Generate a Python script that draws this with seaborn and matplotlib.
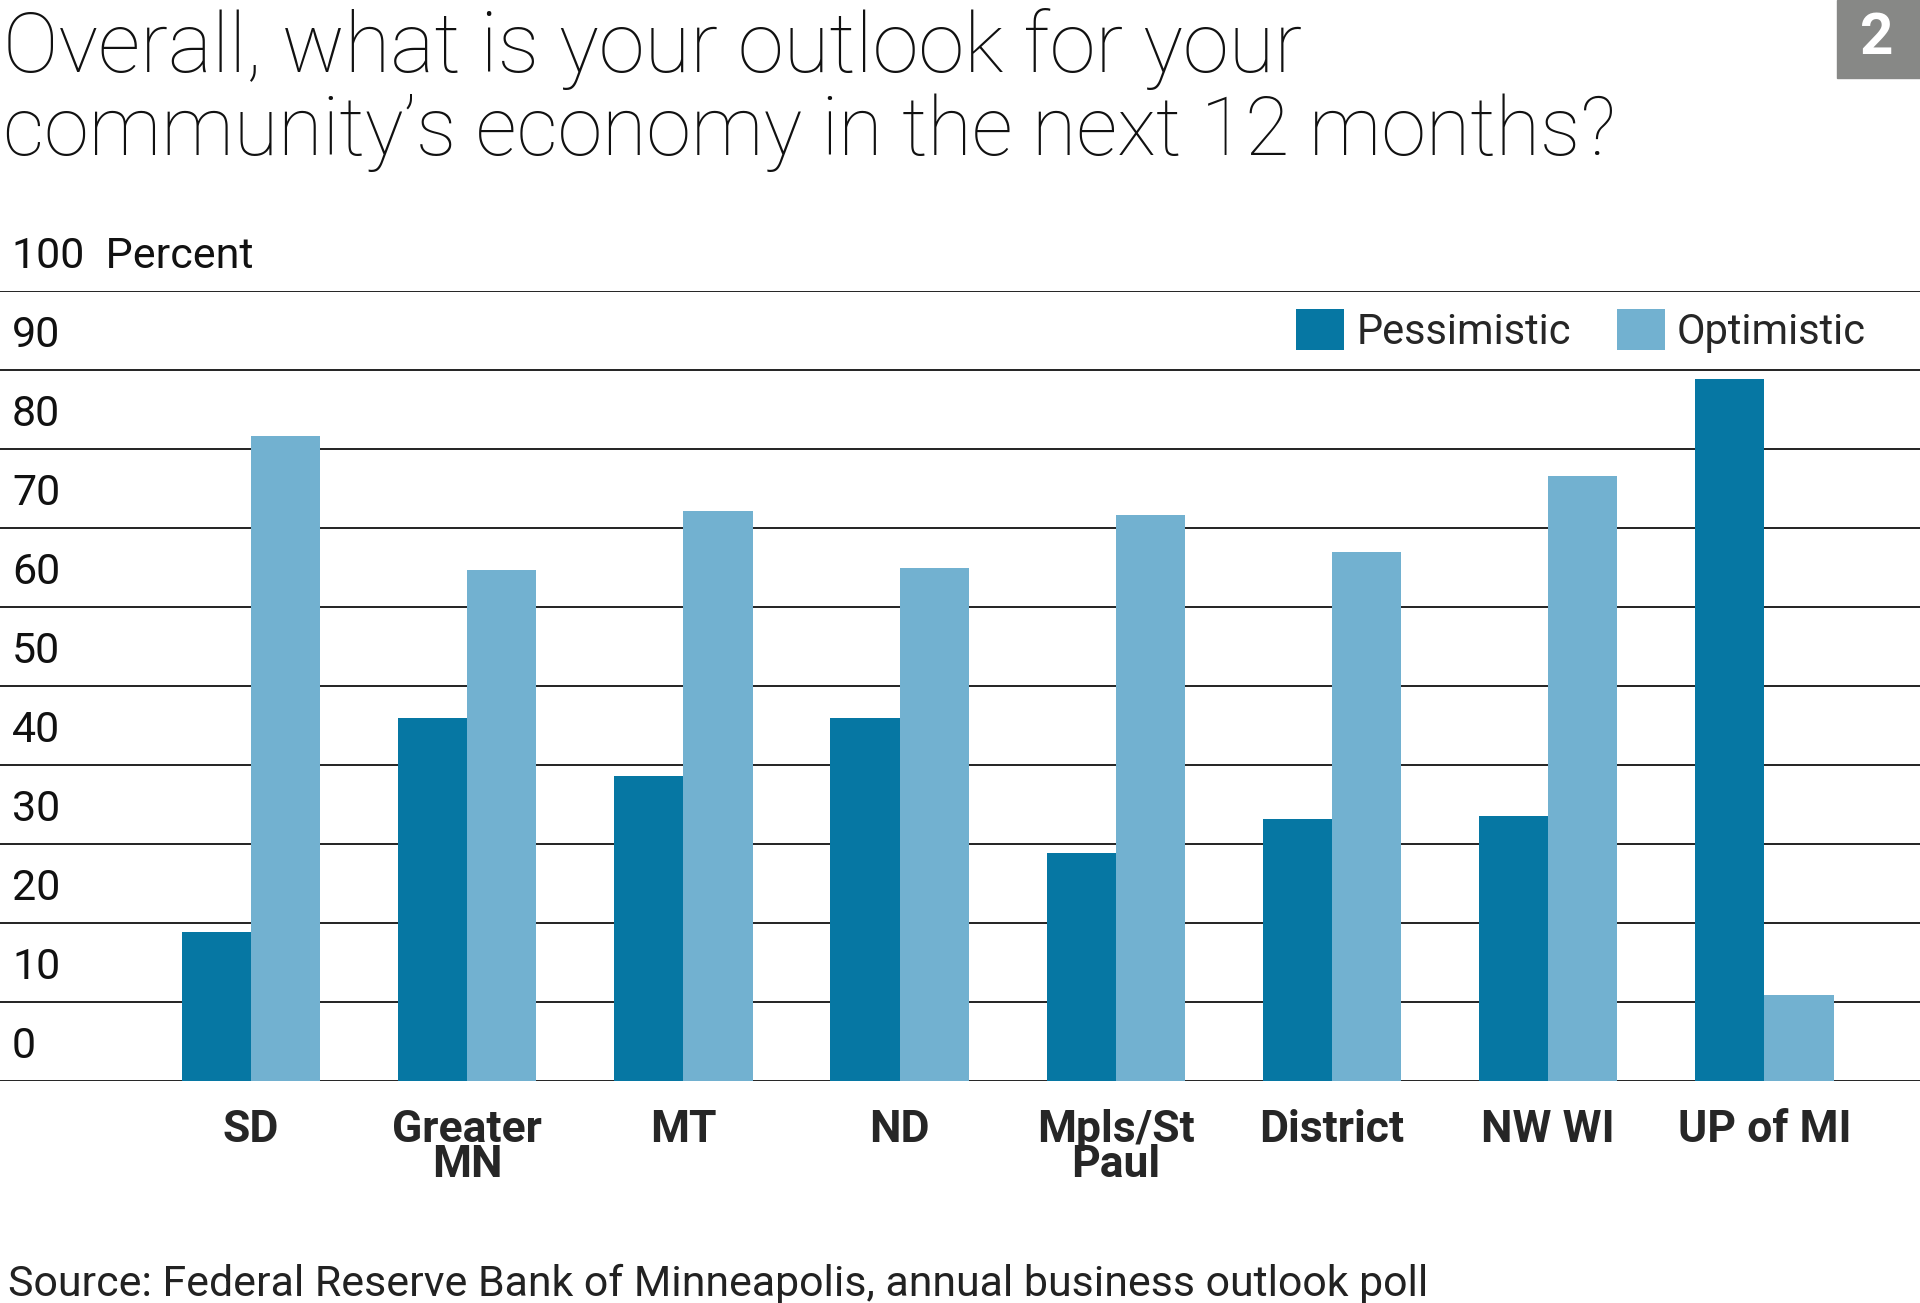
import pandas as pd
import seaborn as sns
import matplotlib.pyplot as plt
import matplotlib.transforms as mtransforms
from matplotlib.patches import Rectangle

# values (percent of respondents)
regions = ["SD", "Greater MN", "MT", "ND", "Mpls/St Paul", "District", "NW WI", "UP of MI"]
region_labels = ["SD", "Greater\nMN", "MT", "ND", "Mpls/St\nPaul", "District", "NW WI", "UP of MI"]
pessimistic = [18.8, 46.0, 38.6, 46.0, 28.8, 33.2, 33.5, 88.9]
optimistic = [81.7, 64.7, 72.2, 64.9, 71.6, 67.0, 76.6, 10.9]
outlooks = ["Pessimistic", "Optimistic"]
colors = {"Pessimistic": "#0677a3", "Optimistic": "#72b1d0"}

yticks = [0, 10, 20, 30, 40, 50, 60, 70, 80, 90, 100]
ytick_labels = ["0", "10", "20", "30", "40", "50", "60", "70", "80", "90", "100  Percent"]

title_lines = ["Overall, what is your outlook for your",
               "community\u2019s economy in the next 12 months?"]
source = "Source: Federal Reserve Bank of Minneapolis, annual business outlook poll"

df = pd.DataFrame({
    "Region": regions * 2,
    "Percent": pessimistic + optimistic,
    "Outlook": ["Pessimistic"] * len(regions) + ["Optimistic"] * len(regions),
})

sns.set_style("white")
plt.rcParams["font.family"] = ["Roboto", "DejaVu Sans"]

W, H = 1920, 1303
fig = plt.figure(figsize=(W / 100, H / 100), dpi=100)
ax = fig.add_axes([0, 1 - 1081 / H, 1, (1081 - 291) / H])

sns.barplot(data=df, x="Region", y="Percent", hue="Outlook", hue_order=outlooks,
            palette=colors, saturation=1, width=0.64, linewidth=0, ax=ax)

ax.set_ylim(0, 100)
ax.set_xlim(-1.161, 7.72)
for s in ax.spines.values():
    s.set_visible(False)
ax.set_axisbelow(True)
ax.set_yticks(yticks)
ax.yaxis.grid(True, color="#222222", linewidth=1.4)
ax.tick_params(axis="y", length=0, labelleft=False)
ax.set_xlabel("")
ax.set_ylabel("")

# y labels sit inside the plot, just above their gridline
trans = mtransforms.blended_transform_factory(ax.transAxes, ax.transData)
off = mtransforms.ScaledTranslation(0.12, 0.23, fig.dpi_scale_trans)
for v, lab in zip(yticks, ytick_labels):
    ax.text(0, v, lab, transform=trans + off, ha="left", va="baseline",
            fontsize=31, fontweight="normal", color="#111111")

ax.set_xticks(range(len(regions)), region_labels)
ax.tick_params(axis="x", length=0, pad=20)
for lab in ax.get_xticklabels():
    lab.set_fontsize(32)
    lab.set_fontweight("bold")
    lab.set_linespacing(0.8)

handles, labels = ax.get_legend_handles_labels()
ax.legend(handles, labels, ncol=2, frameon=False, loc="center right",
          bbox_to_anchor=(1866 / W, 1 - 331 / H), bbox_transform=fig.transFigure,
          borderpad=0, borderaxespad=0, handlelength=1.15, handleheight=1.15,
          handletextpad=0.3, columnspacing=1.1,
          prop={"size": 30, "weight": "normal"})

t1 = fig.text(3 / W, 1 - 72 / H, title_lines[0], fontsize=60, fontweight="light",
              ha="left", va="baseline", color="#111111")
t2 = fig.text(3 / W, 1 - 155 / H, title_lines[1], fontsize=60, fontweight="light",
              ha="left", va="baseline", color="#111111")
src = fig.text(8 / W, 1 - 1296 / H, source, fontsize=28, fontweight="normal",
               ha="left", va="baseline", color="#222222")

# scale the long texts to the widths seen in the reference
r = fig.canvas.get_renderer()
for t, target in [(t1, 1300), (t2, 1615), (src, 1418)]:
    w = t.get_window_extent(r).width
    t.set_fontsize(t.get_fontsize() * target / w)

# figure number badge
fig.patches.append(Rectangle((1837 / W, 1 - 78 / H), 83 / W, 78 / H,
                             transform=fig.transFigure, color="#878886"))
fig.text(1877 / W, 1 - 39 / H, "2", fontsize=42, fontweight="bold", color="white",
         ha="center", va="center")

fig.savefig("out.png", dpi=100)
